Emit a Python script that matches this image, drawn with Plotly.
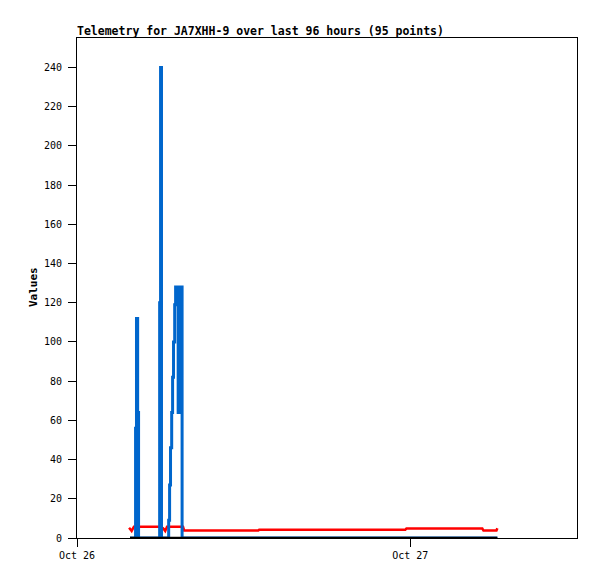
import plotly.graph_objects as go

# Data
blue_times = ["2023-10-26 03:49", "2023-10-26 04:13", "2023-10-26 04:17", "2023-10-26 04:22",
              "2023-10-26 04:26", "2023-10-26 05:57", "2023-10-26 06:01", "2023-10-26 06:05",
              "2023-10-26 06:36", "2023-10-26 06:40", "2023-10-26 06:44", "2023-10-26 06:49",
              "2023-10-26 06:53", "2023-10-26 06:57", "2023-10-26 07:02", "2023-10-26 07:06",
              "2023-10-26 07:17", "2023-10-26 07:23", "2023-10-26 07:34", "2023-10-27 06:16"]
blue_values = [0, 56, 112, 64, 0, 120, 240, 0, 9, 27, 46, 64, 82, 100, 119, 128, 64, 128, 0, 0]

red_times = ["2023-10-26 03:45", "2023-10-26 03:56", "2023-10-26 04:06", "2023-10-26 05:59",
             "2023-10-26 06:12", "2023-10-26 06:21", "2023-10-26 06:29", "2023-10-26 07:38",
             "2023-10-26 07:43", "2023-10-26 13:03", "2023-10-26 13:07", "2023-10-26 23:38",
             "2023-10-26 23:43", "2023-10-27 05:11", "2023-10-27 05:16", "2023-10-27 06:12",
             "2023-10-27 06:16"]
red_values = [5.2, 3.6, 5.8, 5.8, 5.0, 3.6, 5.8, 5.8, 3.8, 3.8, 4.2, 4.2, 4.8, 4.8, 3.8, 3.8, 5.0]

black_times = ["2023-10-26 03:49", "2023-10-27 06:16"]
black_values = [0, 0]

x_range = ["2023-10-26 00:00", "2023-10-27 12:00"]
x_tickvals = ["2023-10-26", "2023-10-27"]
x_ticktext = ["Oct 26", "Oct 27"]
y_tickvals = list(range(0, 241, 20))

title_text = "Telemetry for JA7XHH-9 over last 96 hours (95 points)"
mono = "DejaVu Sans Mono"

fig = go.Figure()
fig.add_trace(go.Scatter(x=red_times, y=red_values, mode="lines",
                         line=dict(color="#ff0000", width=2.5), showlegend=False))
fig.add_trace(go.Scatter(x=blue_times, y=blue_values, mode="lines",
                         line=dict(color="#0066cc", width=3, shape="hv"), showlegend=False))
fig.add_trace(go.Scatter(x=black_times, y=black_values, mode="lines",
                         line=dict(color="#000000", width=2.5), showlegend=False, cliponaxis=False))

# page body has an 8px margin; figure is sized so the plot area lands at 77..577 x 38..538
fig.update_layout(
    width=589, height=571,
    margin=dict(l=69, r=20, t=30, b=41),
    paper_bgcolor="white", plot_bgcolor="white",
    font=dict(family=mono, size=10, color="black"),
    title=dict(text="<b>" + title_text + "</b>", x=69 / 589, xanchor="left",
               y=1 - 23 / 571, yanchor="middle", font=dict(family=mono, size=11.5, color="black")),
    xaxis=dict(type="date", range=x_range, tickvals=x_tickvals, ticktext=x_ticktext,
               showgrid=False, zeroline=False, showline=True, linecolor="black", linewidth=1,
               mirror=True, ticks="outside", ticklen=8, tickcolor="black", tickwidth=1,
               tickfont=dict(family=mono, size=10, color="black")),
    yaxis=dict(range=[0, 255], tickvals=y_tickvals, showgrid=False, zeroline=False,
               showline=True, linecolor="black", linewidth=1, mirror=True,
               ticks="outside", ticklen=8, tickcolor="black", tickwidth=1,
               ticklabelstandoff=4,
               tickfont=dict(family=mono, size=10, color="black")),
    annotations=[dict(text="<b>Values</b>", xref="paper", yref="paper",
                      x=(33 - 77) / 500, y=(538 - 287) / 500, xanchor="center", yanchor="middle",
                      textangle=-90, showarrow=False, font=dict(family=mono, size=11, color="black"))],
)

fig.write_html("out.html")
